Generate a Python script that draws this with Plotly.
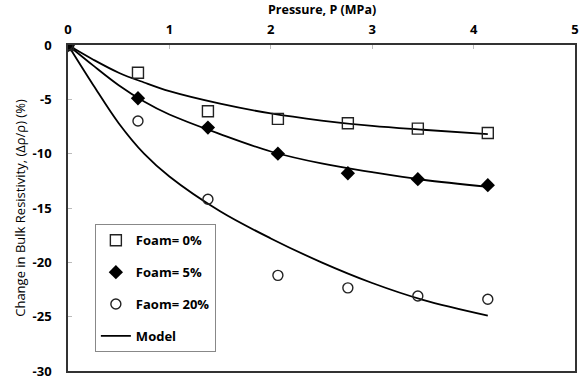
import plotly.graph_objects as go

# Measured data
pressure = [0, 0.69, 1.38, 2.07, 2.76, 3.45, 4.14]
foam0 = [0, -2.55, -6.1, -6.8, -7.2, -7.7, -8.1]
foam5 = [0, -4.9, -7.6, -10.0, -11.8, -12.35, -12.9]
foam20 = [0, -7.0, -14.2, -21.2, -22.35, -23.1, -23.4]

# Model curves
model_p = [0, 0.25, 0.5, 0.75, 1.0, 1.5, 2.0, 2.5, 3.0, 3.5, 4.14]
model0 = [0, -1.35, -2.55, -3.45, -4.25, -5.4, -6.3, -6.95, -7.45, -7.8, -8.2]
model5 = [0, -1.9, -3.7, -5.2, -6.4, -8.2, -9.8, -10.9, -11.7, -12.4, -13.05]
model20 = [0, -3.7, -7.2, -10.0, -12.1, -15.3, -17.8, -20.0, -21.9, -23.45, -24.9]

y_ticks = [0, -5, -10, -15, -20, -25, -30]
x_ticks = [0, 1, 2, 3, 4, 5]

font_b = "Open Sans"
fig = go.Figure()

for i, my in enumerate([model0, model5, model20]):
    fig.add_trace(go.Scatter(
        x=model_p, y=my, mode="lines", line=dict(color="black", width=1.8, shape="spline"),
        name="Model", showlegend=(i == 0), legendgroup="m", legendrank=4,
    ))

fig.add_trace(go.Scatter(
    x=pressure, y=foam0, mode="markers", name="Foam= 0%", legendgroup="a", legendrank=1,
    marker=dict(symbol="square-open", size=11, color="#222", line=dict(width=1.4, color="#222")),
))
fig.add_trace(go.Scatter(
    x=pressure, y=foam5, mode="markers", name="Foam= 5%", legendgroup="b", legendrank=2,
    marker=dict(symbol="diamond", size=11, color="black"),
))
fig.add_trace(go.Scatter(
    x=pressure, y=foam20, mode="markers", name="Faom= 20%", legendgroup="c", legendrank=3,
    marker=dict(symbol="circle-open", size=10, color="#222", line=dict(width=1.4, color="#222")),
))

fig.update_layout(
    width=582, height=383,
    margin=dict(l=68, r=3, t=45, b=9),
    paper_bgcolor="white", plot_bgcolor="white",
    font=dict(family=font_b, color="black", size=13),
    showlegend=True,
    legend=dict(
        x=0.053, y=0.45, xanchor="left", yanchor="top",
        bgcolor="white", bordercolor="#888", borderwidth=1,
        font=dict(family=font_b, size=13, weight="bold"),
        tracegroupgap=12, traceorder="grouped",
    ),
    xaxis=dict(
        side="top", range=[0, 5], tickvals=x_ticks, ticktext=[str(v) for v in x_ticks],
        showgrid=False, zeroline=False,
        showline=True, linecolor="#333", linewidth=1.5, mirror=True,
        ticks="inside", ticklen=4, tickcolor="#bbb",
        tickfont=dict(family=font_b, size=13, weight="bold"),
        ticklabelstandoff=4,
    ),
    yaxis=dict(
        range=[-30, 0], tickvals=y_ticks, ticktext=[str(v) for v in y_ticks],
        showgrid=False, zeroline=False,
        showline=True, linecolor="#333", linewidth=1.5, mirror=True,
        ticks="inside", ticklen=4, tickcolor="#bbb",
        tickfont=dict(family=font_b, size=13, weight="bold"),
        ticklabelstandoff=12, ticklabeloverflow="allow",
        title=dict(text="Change in Bulk Resistivity, (Δρ/ρ) (%)", font=dict(family=font_b, size=13), standoff=4),
    ),
    annotations=[dict(
        text="<b>Pressure, P (MPa)</b>", xref="paper", yref="paper", x=0.5, y=1,
        yshift=36, xanchor="center", yanchor="middle", showarrow=False,
        font=dict(family=font_b, size=12.5, color="black"),
    )],
)

fig.write_html(
    "out.html",
    config={"displayModeBar": False},
    post_script="document.body.style.margin='0';document.body.style.overflow='hidden';",
)
